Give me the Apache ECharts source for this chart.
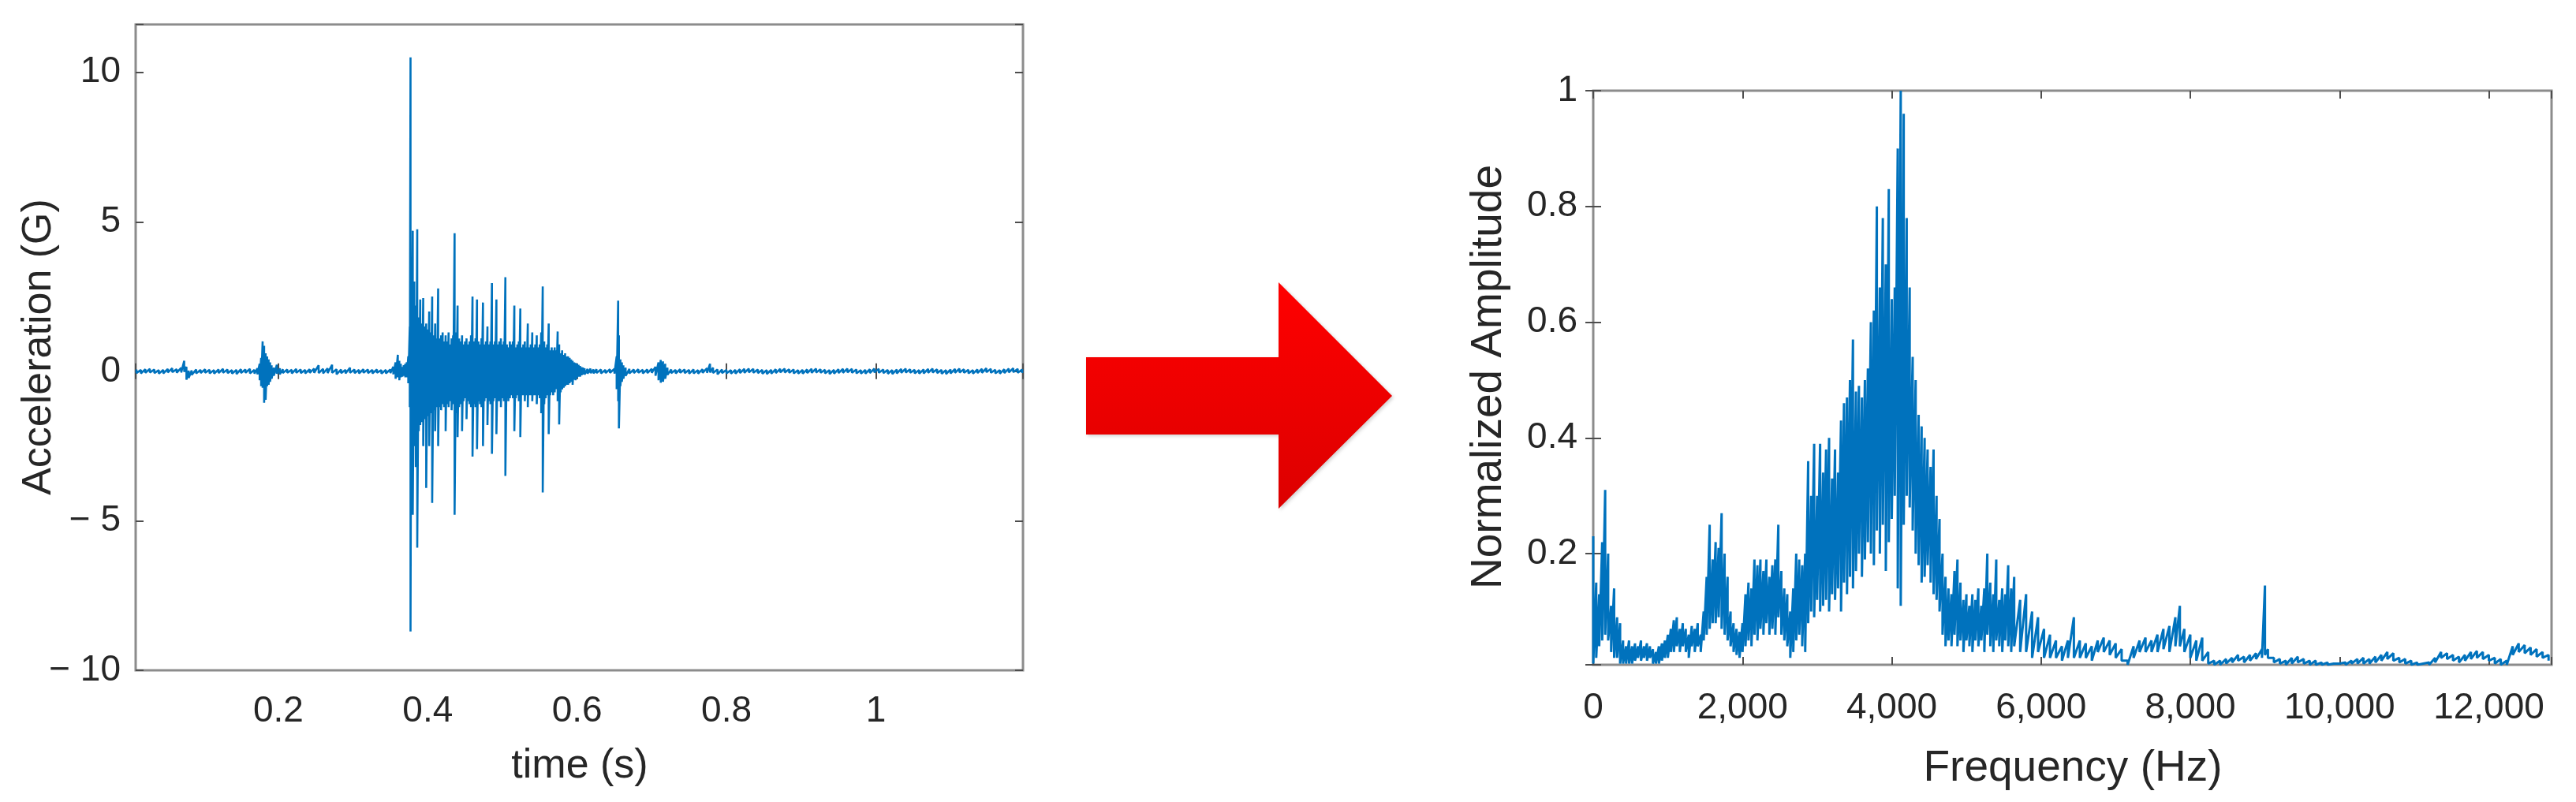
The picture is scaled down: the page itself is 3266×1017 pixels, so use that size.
<!DOCTYPE html>
<html><head><meta charset="utf-8">
<script src="https://cdn.jsdelivr.net/npm/echarts@6/dist/echarts.min.js"></script>
<style>html,body{margin:0;padding:0;background:#fff}#c{width:3266px;height:1017px}</style>
</head><body><div id="c"></div>
<script>
// ---- tick labels ----
const accXTicks = [0.2, 0.4, 0.6, 0.8, 1];
const accXTickLabels = ['0.2', '0.4', '0.6', '0.8', '1'];
const accYTicks = [-10, -5, 0, 5, 10];
const accYTickLabels = ['\u2212 10', '\u2212 5', '0', '5', '10'];
const specXTicks = [0, 2000, 4000, 6000, 8000, 10000, 12000];
const specXTickLabels = ['0', '2,000', '4,000', '6,000', '8,000', '10,000', '12,000'];
const specYTicks = [0.2, 0.4, 0.6, 0.8, 1];
const specYTickLabels = ['0.2', '0.4', '0.6', '0.8', '1'];

// ---- acceleration signal: [time (s), upper swing, lower swing] ----
const accEnvelope = [
 [0.010,0.06,-0.06],[0.016,0.05,-0.07],[0.022,0.07,-0.05],[0.028,0.08,-0.04],[0.034,0.06,-0.06],
 [0.040,0.04,-0.08],[0.046,0.05,-0.07],[0.052,0.08,-0.04],[0.058,0.10,-0.03],[0.064,0.07,-0.05],
 [0.070,0.12,-0.04],[0.074,0.35,-0.02],[0.077,0.15,-0.28],[0.080,0.02,-0.22],[0.084,0.03,-0.12],
 [0.090,0.06,-0.07],[0.096,0.05,-0.06],[0.102,0.07,-0.05],[0.108,0.05,-0.07],[0.114,0.04,-0.08],
 [0.120,0.06,-0.06],[0.126,0.08,-0.05],[0.132,0.06,-0.06],[0.138,0.04,-0.08],[0.144,0.05,-0.09],
 [0.150,0.07,-0.06],[0.156,0.06,-0.05],[0.162,0.08,-0.07],[0.168,0.05,-0.08],[0.172,0.10,-0.10],
 [0.175,0.25,-0.30],[0.177,0.45,-0.50],[0.179,1.00,-0.55],[0.181,0.85,-1.05],[0.183,0.60,-0.95],
 [0.185,0.50,-0.50],[0.187,0.40,-0.45],[0.189,0.30,-0.35],[0.191,0.20,-0.25],[0.194,0.12,-0.15],
 [0.198,0.22,-0.08],[0.202,0.10,-0.10],
 [0.206,0.07,-0.06],[0.212,0.06,-0.05],[0.218,0.05,-0.07],[0.224,0.08,-0.05],[0.230,0.06,-0.06],
 [0.236,0.05,-0.07],[0.242,0.07,-0.05],[0.248,0.09,-0.05],[0.254,0.20,-0.06],[0.260,0.08,-0.07],
 [0.266,0.10,-0.06],[0.272,0.22,-0.05],[0.278,0.07,-0.10],[0.284,0.06,-0.06],[0.290,0.05,-0.07],
 [0.296,0.12,-0.05],[0.302,0.06,-0.06],[0.308,0.05,-0.07],[0.314,0.07,-0.05],[0.320,0.06,-0.06],
 [0.326,0.05,-0.07],[0.332,0.06,-0.05],[0.338,0.04,-0.08],[0.344,0.05,-0.07],[0.350,0.06,-0.06],
 [0.354,0.15,-0.10],[0.357,0.30,-0.25],[0.360,0.55,-0.20],[0.362,0.35,-0.30],[0.364,0.25,-0.20],
 [0.366,0.15,-0.18],[0.368,0.20,-0.15],[0.370,0.25,-0.20],
 [0.372,0.30,-0.20],[0.374,0.50,-0.40],[0.376,1.50,-1.20],[0.377,10.5,-8.70],[0.378,2.00,-3.00],
 [0.380,4.70,-4.80],[0.382,3.00,-2.50],[0.384,2.20,-3.20],[0.386,4.75,-5.90],[0.388,1.80,-2.00],
 [0.390,2.40,-1.80],[0.392,1.60,-1.70],[0.394,2.45,-2.50],[0.396,1.50,-1.60],[0.398,1.60,-3.90],
 [0.400,1.40,-1.50],[0.402,2.00,-2.50],[0.404,1.30,-1.40],[0.406,2.50,-4.40],[0.408,1.20,-1.30],
 [0.410,1.60,-2.00],[0.412,1.10,-1.20],[0.414,2.77,-2.50],[0.416,1.10,-1.20],[0.418,1.20,-1.30],
 [0.420,1.30,-1.10],[0.422,1.00,-1.20],[0.424,1.20,-2.00],[0.426,1.00,-1.10],[0.428,1.30,-1.20],
 [0.430,0.90,-1.00],[0.432,1.10,-1.30],[0.434,1.20,-1.10],[0.436,4.62,-4.80],[0.438,1.30,-1.40],
 [0.440,2.20,-2.20],[0.442,1.10,-1.20],[0.444,1.00,-1.10],[0.446,1.20,-2.00],[0.448,0.90,-1.00],
 [0.450,1.00,-0.90],[0.452,1.10,-1.60],[0.454,0.90,-1.00],[0.456,1.00,-1.10],[0.458,1.20,-1.20],
 [0.460,2.50,-2.85],[0.462,1.00,-1.10],[0.464,1.10,-1.20],[0.466,2.40,-2.60],[0.468,1.00,-1.00],
 [0.470,0.90,-1.10],[0.472,1.10,-1.20],[0.474,2.30,-2.50],[0.476,0.90,-1.00],[0.478,1.00,-0.90],
 [0.480,1.50,-1.80],[0.482,0.90,-1.00],[0.484,1.00,-1.10],[0.486,2.95,-2.76],[0.488,0.90,-1.00],
 [0.490,1.00,-0.90],[0.492,2.40,-2.10],[0.494,0.90,-1.00],[0.496,1.00,-1.00],[0.498,1.10,-1.20],
 [0.500,0.90,-0.90],[0.502,1.00,-1.00],[0.504,3.15,-3.50],[0.506,0.90,-0.90],[0.508,0.80,-1.00],
 [0.510,1.00,-0.90],[0.512,0.90,-0.80],[0.514,1.00,-0.90],[0.516,2.20,-2.00],[0.518,0.80,-0.90],
 [0.520,0.90,-0.80],[0.522,1.00,-1.00],[0.524,2.10,-2.20],[0.526,0.80,-0.80],[0.528,0.90,-0.80],
 [0.530,1.00,-1.00],[0.532,0.80,-0.80],[0.534,1.60,-1.20],[0.536,0.80,-0.80],[0.538,0.90,-0.80],
 [0.540,1.30,-1.00],[0.542,0.80,-0.80],[0.544,0.90,-0.80],[0.546,1.20,-1.10],[0.548,0.80,-0.80],
 [0.550,0.90,-0.90],[0.552,1.30,-1.40],[0.554,2.84,-4.05],[0.556,1.00,-1.10],[0.558,0.80,-0.90],
 [0.560,0.90,-0.80],[0.562,1.60,-2.10],[0.564,0.70,-0.80],[0.566,0.80,-0.70],[0.568,0.70,-0.80],
 [0.570,0.80,-0.70],[0.572,0.70,-0.60],[0.574,1.33,-1.00],[0.576,0.90,-1.78],[0.578,0.60,-0.70],
 [0.580,0.70,-0.60],[0.582,0.55,-0.55],[0.584,0.60,-0.50],[0.586,0.50,-0.45],[0.588,0.50,-0.45],
 [0.590,0.45,-0.40],[0.592,0.40,-0.35],[0.594,0.35,-0.45],[0.596,0.30,-0.28],[0.598,0.28,-0.30],
 [0.600,0.25,-0.22],[0.602,0.22,-0.18],[0.604,0.18,-0.18],[0.606,0.14,-0.13],[0.608,0.13,-0.10],
 [0.610,0.10,-0.11],[0.614,0.08,-0.08],[0.618,0.09,-0.06],[0.622,0.06,-0.07],
 [0.626,0.07,-0.06],[0.632,0.06,-0.07],[0.638,0.05,-0.06],[0.644,0.07,-0.05],[0.650,0.08,-0.08],
 [0.653,0.50,-0.60],[0.655,2.36,-1.00],[0.656,1.20,-1.91],[0.658,0.40,-0.50],[0.660,0.30,-0.35],
 [0.662,0.20,-0.25],[0.665,0.12,-0.15],[0.670,0.08,-0.07],[0.676,0.06,-0.06],[0.682,0.07,-0.05],
 [0.688,0.05,-0.07],[0.694,0.06,-0.06],[0.700,0.08,-0.05],[0.705,0.15,-0.15],[0.709,0.30,-0.30],
 [0.712,0.38,-0.38],[0.715,0.33,-0.35],[0.718,0.25,-0.25],[0.721,0.12,-0.12],[0.726,0.06,-0.06],
 [0.732,0.05,-0.07],[0.738,0.07,-0.05],[0.744,0.06,-0.06],[0.750,0.05,-0.08],[0.756,0.06,-0.07],
 [0.762,0.04,-0.08],[0.768,0.07,-0.05],[0.774,0.10,-0.05],[0.778,0.25,-0.04],[0.782,0.12,-0.06],
 [0.788,0.06,-0.10],[0.794,0.06,-0.06],[0.800,0.05,-0.07],[0.806,0.04,-0.08],[0.812,0.05,-0.08],
 [0.818,0.07,-0.06],[0.824,0.08,-0.05],[0.830,0.09,-0.04],[0.836,0.08,-0.05],[0.842,0.06,-0.06],
 [0.848,0.05,-0.08],[0.854,0.04,-0.09],[0.860,0.05,-0.08],[0.866,0.07,-0.06],[0.872,0.08,-0.04],
 [0.878,0.09,-0.04],[0.884,0.07,-0.05],[0.890,0.06,-0.07],[0.896,0.04,-0.08],[0.902,0.05,-0.08],
 [0.908,0.06,-0.06],[0.914,0.08,-0.05],[0.920,0.09,-0.04],[0.926,0.07,-0.05],[0.932,0.05,-0.07],
 [0.938,0.04,-0.09],[0.944,0.05,-0.08],[0.950,0.07,-0.06],[0.956,0.08,-0.05],[0.962,0.09,-0.04],
 [0.968,0.08,-0.05],[0.974,0.06,-0.07],[0.980,0.04,-0.08],[0.986,0.05,-0.08],[0.992,0.07,-0.06],
 [0.998,0.09,-0.04],[1.004,0.08,-0.05],[1.010,0.06,-0.06],[1.016,0.05,-0.08],[1.022,0.04,-0.09],
 [1.028,0.06,-0.07],[1.034,0.08,-0.05],[1.040,0.09,-0.04],[1.046,0.07,-0.05],[1.052,0.05,-0.07],
 [1.058,0.04,-0.08],[1.064,0.06,-0.07],[1.070,0.08,-0.05],[1.076,0.09,-0.04],[1.082,0.07,-0.06],
 [1.088,0.05,-0.08],[1.094,0.04,-0.09],[1.100,0.06,-0.07],[1.106,0.08,-0.05],[1.112,0.09,-0.04],
 [1.118,0.07,-0.05],[1.124,0.05,-0.07],[1.130,0.04,-0.08],[1.136,0.06,-0.06],[1.142,0.08,-0.05],
 [1.148,0.10,-0.03],[1.154,0.08,-0.05],[1.160,0.05,-0.07],[1.166,0.04,-0.08],[1.172,0.07,-0.06],
 [1.178,0.09,-0.04],[1.184,0.10,-0.03],[1.190,0.08,-0.05],[1.196,0.06,-0.06]
];

// ---- normalized spectrum: [frequency (Hz), upper, lower] ----
const specEnvelope = [
 [0,0.23,0.01],[40,0.15,0.02],[80,0.13,0.04],[120,0.22,0.05],[160,0.31,0.06],[200,0.20,0.05],
 [240,0.11,0.03],[280,0.14,0.02],[320,0.09,0.02],[360,0.08,0.01],[400,0.05,0.01],[440,0.04,0.01],
 [480,0.05,0.01],[520,0.04,0.01],[560,0.045,0.015],[600,0.04,0.02],[640,0.05,0.015],[680,0.04,0.02],
 [720,0.045,0.015],[760,0.04,0.02],[800,0.035,0.01],[840,0.03,0.01],[880,0.04,0.01],[920,0.045,0.015],
 [960,0.05,0.02],[1000,0.06,0.02],[1040,0.07,0.03],[1080,0.085,0.03],[1120,0.09,0.04],[1160,0.07,0.03],
 [1200,0.08,0.04],[1240,0.07,0.03],[1280,0.06,0.02],[1320,0.075,0.04],[1360,0.07,0.03],[1400,0.08,0.04],
 [1440,0.06,0.03],[1480,0.10,0.05],[1520,0.16,0.06],[1560,0.25,0.07],[1600,0.19,0.08],[1640,0.22,0.08],
 [1680,0.21,0.09],[1720,0.27,0.07],[1760,0.20,0.06],[1800,0.16,0.05],[1840,0.10,0.04],[1880,0.08,0.03],
 [1920,0.07,0.025],[1960,0.065,0.02],[2000,0.08,0.03],[2040,0.13,0.04],[2080,0.15,0.05],[2120,0.14,0.04],
 [2160,0.19,0.06],[2200,0.18,0.05],[2240,0.19,0.07],[2280,0.17,0.06],[2320,0.19,0.08],[2360,0.16,0.06],
 [2400,0.18,0.07],[2440,0.19,0.06],[2480,0.25,0.09],[2520,0.17,0.06],[2560,0.14,0.05],[2600,0.13,0.04],
 [2640,0.10,0.02],[2680,0.14,0.03],[2720,0.20,0.05],[2760,0.19,0.06],[2800,0.18,0.04],[2840,0.20,0.03],
 [2880,0.36,0.08],[2920,0.30,0.10],[2960,0.39,0.09],[3000,0.30,0.12],[3040,0.39,0.10],[3080,0.34,0.11],
 [3120,0.38,0.12],[3160,0.40,0.10],[3200,0.33,0.13],[3240,0.38,0.12],[3280,0.34,0.14],[3320,0.43,0.10],
 [3360,0.46,0.15],[3400,0.47,0.13],[3440,0.50,0.16],[3480,0.57,0.14],[3520,0.48,0.17],[3560,0.49,0.20],
 [3600,0.47,0.16],[3640,0.50,0.19],[3680,0.52,0.22],[3720,0.60,0.20],[3760,0.62,0.18],[3800,0.80,0.24],
 [3840,0.66,0.20],[3880,0.78,0.25],[3920,0.70,0.17],[3960,0.83,0.22],[4000,0.64,0.26],[4040,0.66,0.30],
 [4080,0.90,0.14],[4120,1.00,0.11],[4160,0.96,0.25],[4200,0.78,0.30],[4240,0.66,0.28],[4280,0.54,0.24],
 [4320,0.50,0.20],[4360,0.44,0.18],[4400,0.42,0.15],[4440,0.40,0.16],[4480,0.38,0.18],[4520,0.35,0.15],
 [4560,0.38,0.13],[4600,0.30,0.12],[4640,0.26,0.10],[4680,0.20,0.06],[4720,0.16,0.04],[4760,0.14,0.05],
 [4800,0.13,0.04],[4840,0.17,0.06],[4880,0.19,0.04],[4920,0.15,0.05],[4960,0.12,0.03],[5000,0.13,0.05],
 [5040,0.11,0.04],[5080,0.13,0.03],[5120,0.12,0.05],[5160,0.14,0.04],[5200,0.11,0.05],[5240,0.14,0.03],
 [5280,0.20,0.06],[5320,0.15,0.04],[5360,0.13,0.03],[5400,0.19,0.05],[5440,0.12,0.04],[5480,0.14,0.03],
 [5520,0.13,0.05],[5560,0.18,0.04],[5600,0.14,0.03],
 [5640,0.16,0.04],[5720,0.12,0.03],[5800,0.13,0.03],[5880,0.10,0.02],[5960,0.09,0.03],[6040,0.07,0.02],
 [6120,0.06,0.02],[6200,0.05,0.02],[6280,0.04,0.015],[6360,0.05,0.02],[6440,0.09,0.02],[6520,0.05,0.02],
 [6600,0.045,0.02],[6680,0.04,0.015],[6760,0.05,0.03],[6840,0.055,0.03],[6920,0.05,0.025],[7000,0.045,0.02],
 [7080,0.035,0.015],[7160,0.015,0.008],[7240,0.04,0.02],[7320,0.05,0.03],[7400,0.055,0.03],[7480,0.05,0.03],
 [7560,0.06,0.03],[7640,0.07,0.035],[7720,0.075,0.03],[7800,0.09,0.04],[7860,0.11,0.04],[7920,0.07,0.03],
 [8000,0.06,0.02],[8080,0.05,0.015],[8160,0.055,0.015],[8240,0.03,0.01],[8320,0.015,0.008],[8400,0.015,0.008],
 [8480,0.018,0.01],[8560,0.02,0.012],[8640,0.025,0.015],[8720,0.022,0.012],[8800,0.025,0.015],[8880,0.028,0.018],
 [8960,0.035,0.02],[9000,0.145,0.025],[9040,0.035,0.02],[9120,0.02,0.012],[9200,0.018,0.01],[9280,0.015,0.008],
 [9360,0.02,0.01],[9440,0.022,0.012],[9520,0.018,0.01],[9600,0.015,0.008],[9680,0.015,0.008],[9760,0.012,0.008],
 [9840,0.012,0.008],[9920,0.01,0.008],[10000,0.01,0.008],[10080,0.012,0.008],[10160,0.015,0.01],[10240,0.018,0.01],
 [10320,0.02,0.01],[10400,0.018,0.01],[10480,0.022,0.012],[10560,0.025,0.015],[10640,0.03,0.018],[10720,0.028,0.015],
 [10800,0.02,0.012],[10880,0.018,0.01],[10960,0.015,0.008],[11040,0.012,0.008],[11120,0.01,0.008],[11200,0.012,0.008],
 [11280,0.02,0.012],[11360,0.03,0.02],[11440,0.028,0.018],[11520,0.025,0.015],[11600,0.022,0.012],[11680,0.025,0.015],
 [11760,0.03,0.018],[11840,0.032,0.02],[11920,0.03,0.018],[12000,0.025,0.015],[12080,0.02,0.01],[12160,0.018,0.008],
 [12240,0.015,0.008],[12320,0.04,0.025],[12400,0.045,0.03],[12480,0.042,0.028],[12560,0.038,0.025],[12640,0.035,0.022],
 [12720,0.03,0.02],[12800,0.025,0.015]
];

function zig(env) {
  const out = [];
  env.forEach(p => { out.push([p[0], p[1]]); out.push([p[0], p[2]]); });
  return out;
}
function labelFrom(ticks, labels) {
  return v => {
    for (let i = 0; i < ticks.length; i++) if (Math.abs(v - ticks[i]) < 1e-6) return labels[i];
    return '';
  };
}

const FONT = "'Liberation Sans', Arial, Helvetica, sans-serif";
const TXT = '#262626';
const BOX = '#8c8c8c';
const BLUE = '#0072BD';

function tickStyle() { return { show: true, inside: true, length: 10, lineStyle: { color: '#4d4d4d', width: 2 } }; }

const chart = echarts.init(document.getElementById('c'), null, { renderer: 'canvas' });
chart.setOption({
  animation: false,
  backgroundColor: '#ffffff',
  grid: [
    { left: 172, top: 31, width: 1125, height: 819, show: true, borderColor: BOX, borderWidth: 3, backgroundColor: 'transparent' },
    { left: 2020, top: 115, width: 1215, height: 728, show: true, borderColor: BOX, borderWidth: 3, backgroundColor: 'transparent' }
  ],
  xAxis: [
    { gridIndex: 0, type: 'value', position: 'bottom', min: 0.009, max: 1.197, splitNumber: 6,
      axisLine: { show: false }, axisTick: tickStyle(), splitLine: { show: false },
      axisLabel: { formatter: labelFrom(accXTicks, accXTickLabels), fontSize: 46, fontFamily: FONT, color: TXT, margin: 29 } },
    { gridIndex: 0, type: 'value', position: 'top', min: 0.009, max: 1.197, splitNumber: 6,
      axisLine: { show: false }, axisTick: tickStyle(), splitLine: { show: false }, axisLabel: { show: false } },
    { gridIndex: 1, type: 'value', position: 'bottom', min: 0, max: 12840, interval: 2000,
      axisLine: { show: false }, axisTick: tickStyle(), splitLine: { show: false },
      axisLabel: { formatter: labelFrom(specXTicks, specXTickLabels), fontSize: 46, fontFamily: FONT, color: TXT, margin: 32 } },
    { gridIndex: 1, type: 'value', position: 'top', min: 0, max: 12840, interval: 2000,
      axisLine: { show: false }, axisTick: tickStyle(), splitLine: { show: false }, axisLabel: { show: false } }
  ],
  yAxis: [
    { gridIndex: 0, type: 'value', position: 'left', min: -10, max: 11.6, interval: 5,
      axisLine: { show: false }, axisTick: tickStyle(), splitLine: { show: false },
      axisLabel: { formatter: labelFrom(accYTicks, accYTickLabels), fontSize: 46, fontFamily: FONT, color: TXT, margin: 19, showMinLabel: true } },
    { gridIndex: 0, type: 'value', position: 'right', min: -10, max: 11.6, interval: 5,
      axisLine: { show: false }, axisTick: tickStyle(), splitLine: { show: false }, axisLabel: { show: false } },
    { gridIndex: 1, type: 'value', position: 'left', min: 0.008, max: 1, splitNumber: 5,
      axisLine: { show: false }, axisTick: tickStyle(), splitLine: { show: false },
      axisLabel: { formatter: labelFrom(specYTicks, specYTickLabels), fontSize: 46, fontFamily: FONT, color: TXT, margin: 20 } },
    { gridIndex: 1, type: 'value', position: 'right', min: 0.008, max: 1, splitNumber: 5,
      axisLine: { show: false }, axisTick: tickStyle(), splitLine: { show: false }, axisLabel: { show: false } }
  ],
  series: [
    { type: 'line', xAxisIndex: 0, yAxisIndex: 0, data: zig(accEnvelope), showSymbol: false, symbol: 'none',
      lineStyle: { color: BLUE, width: 2.6 }, silent: true, clip: true },
    { type: 'line', xAxisIndex: 2, yAxisIndex: 2, data: zig(specEnvelope), showSymbol: false, symbol: 'none',
      lineStyle: { color: BLUE, width: 3 }, silent: true, clip: true }
  ],
  graphic: [
    { type: 'text', x: 50, y: 440, rotation: Math.PI / 2,
      style: { text: 'Acceleration (G)', font: '52px ' + FONT, fill: TXT, textAlign: 'center', textVerticalAlign: 'middle' } },
    { type: 'text', x: 735, y: 972,
      style: { text: 'time (s)', font: '52px ' + FONT, fill: TXT, textAlign: 'center', textVerticalAlign: 'middle' } },
    { type: 'text', x: 1888, y: 478, rotation: Math.PI / 2,
      style: { text: 'Normalized Amplitude', font: '55px ' + FONT, fill: TXT, textAlign: 'center', textVerticalAlign: 'middle' } },
    { type: 'text', x: 2628, y: 975,
      style: { text: 'Frequency (Hz)', font: '55px ' + FONT, fill: TXT, textAlign: 'center', textVerticalAlign: 'middle' } },
    { type: 'polygon',
      shape: { points: [[1377, 453], [1621, 453], [1621, 358], [1765, 502], [1621, 645], [1621, 551], [1377, 551]] },
      style: { fill: { type: 'linear', x: 0, y: 0, x2: 0, y2: 1, colorStops: [{ offset: 0, color: '#ff0000' }, { offset: 1, color: '#dc0000' }] },
               shadowBlur: 4, shadowColor: 'rgba(0,0,0,0.18)', shadowOffsetX: 2, shadowOffsetY: 2 } }
  ]
});
</script>
</body></html>
